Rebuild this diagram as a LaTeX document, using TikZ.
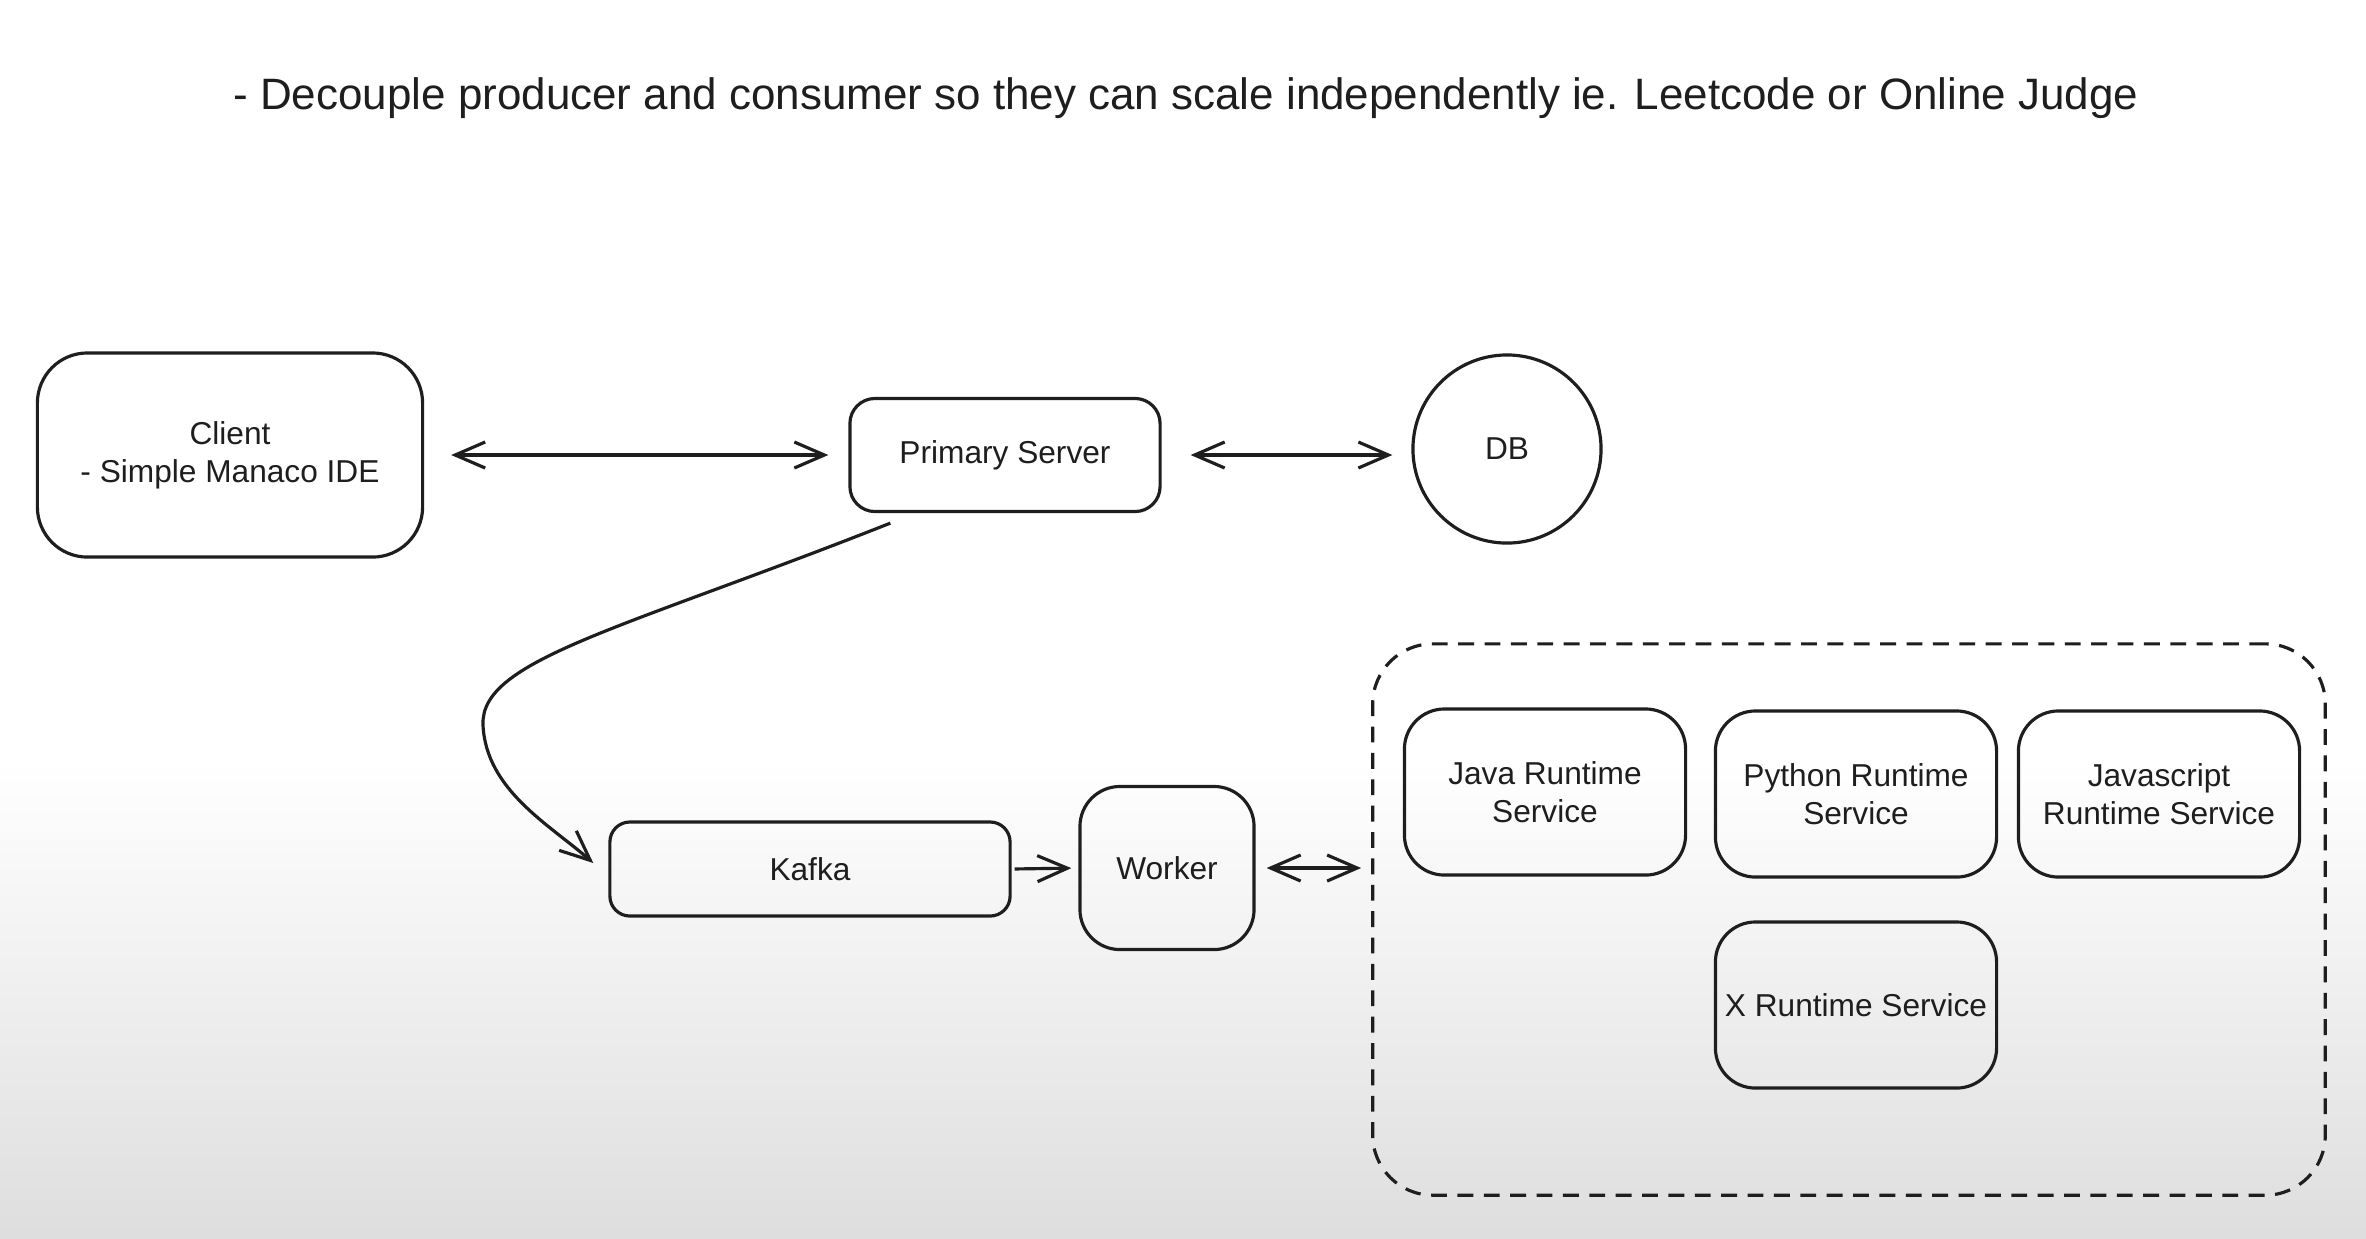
\documentclass[tikz,border=0pt]{standalone}
\usepackage{fontspec}
\setmainfont{Liberation Sans}
\usetikzlibrary{arrows.meta,calc}
\definecolor{ink}{HTML}{1E1E1E}
\begin{document}
\begin{tikzpicture}[x=0.01cm,y=-0.01cm,
  box/.style={draw=ink, line width=0.9pt, rounded corners=#1, align=center, text=ink,
    font=\fontsize{9}{10.8}\selectfont, inner sep=0pt},
  box/.default=3mm,
  tipa/.style={-{Straight Barb[length=3mm,width=2.6mm]}},
  tipb/.style={{Straight Barb[length=3mm,width=2.6mm]}-{Straight Barb[length=3mm,width=2.6mm]}},
  conn/.style={draw=ink, line width=0.9pt},
]
% background
\fill[white] (0,0) rectangle (2366,760);
\shade[top color=white, bottom color=black!13] (0,760) rectangle (2366,1238);
\useasboundingbox (0,0) rectangle (2366,1238);

% title
\node[text=ink, font=\fontsize{12.5}{14}\selectfont] (title) at (1186,98)
  {- Decouple producer and consumer so they can scale independently ie. Leetcode or Online Judge};

% nodes
\node[box=5mm, minimum width=3.85cm, minimum height=2.04cm] (client) at (230,455)
  {Client\\- Simple Manaco IDE};
\node[box=2.5mm, minimum width=3.10cm, minimum height=1.13cm] (primary) at (1005,455)
  {Primary Server};
\node[draw=ink, line width=0.9pt, circle, minimum size=1.88cm, inner sep=0pt, text=ink,
  font=\fontsize{9}{10.8}\selectfont] (db) at (1507,449) {DB};
\node[box=2mm, minimum width=4.0cm, minimum height=0.94cm] (kafka) at (810,869) {Kafka};
\node[box=4mm, minimum width=1.74cm, minimum height=1.63cm] (worker) at (1167,868) {Worker};

\node[draw=ink, line width=0.9pt, dash pattern=on 4.5pt off 3pt, rounded corners=6mm,
  minimum width=9.52cm, minimum height=5.51cm] (grp) at (1849,919.5) {};

\node[box=4mm, minimum width=2.81cm, minimum height=1.66cm] (java) at (1545,792)
  {Java Runtime\\Service};
\node[box=4mm, minimum width=2.81cm, minimum height=1.66cm] (python) at (1856,794)
  {Python Runtime\\Service};
\node[box=4mm, minimum width=2.81cm, minimum height=1.66cm] (js) at (2159,794)
  {Javascript\\Runtime Service};
\node[box=4mm, minimum width=2.81cm, minimum height=1.66cm] (xrt) at (1856,1005)
  {X Runtime Service};

% connectors
\draw[conn, tipb, shorten <=0.27cm, shorten >=0.2cm] (client.east) -- (primary.west);
\draw[conn, tipb, shorten <=0.29cm, shorten >=0.19cm] (primary.east) -- (primary.east -| db.west);
\draw[conn, tipa, shorten <=0.03cm, shorten >=0.07cm] (kafka.east) -- (worker.west);
\draw[conn, tipb, shorten <=0.11cm, shorten >=0.1cm] (worker.east) -- (worker.east -| grp.west);
\draw[conn, tipa] ($(primary.south west)+(42,10)$) .. controls (620,630) and (480,660) .. (483,725)
  .. controls (486,790) and (550,825) .. ($(kafka.west)+(-15,-6)$);
\end{tikzpicture}
\end{document}
